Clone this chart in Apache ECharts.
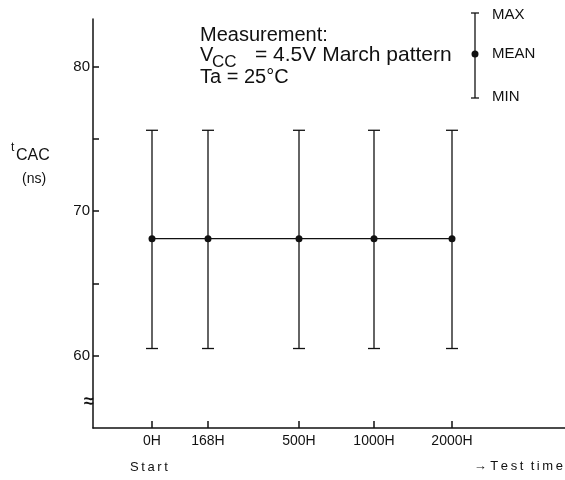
<!DOCTYPE html>
<html>
<head>
<meta charset="utf-8">
<script src="https://cdn.jsdelivr.net/npm/echarts@6/dist/echarts.min.js"></script>
<style>
  html, body { margin: 0; padding: 0; background: #fff; }
  #chart { width: 565px; height: 480px; }
</style>
</head>
<body>
<div id="chart"></div>
<script>
// test points (positions along the time axis are read off the picture, not uniform)
var timeLabels = ['0H', '168H', '500H', '1000H', '2000H'];
var timePos = [59, 115, 206, 281, 359];
var tMean = [68.1, 68.1, 68.1, 68.1, 68.1];
var tMax = [75.6, 75.6, 75.6, 75.6, 75.6];
var tMin = [60.5, 60.5, 60.5, 60.5, 60.5];
var yTicks = [60, 65, 70, 75, 80];
var yLabels = [60, 70, 80];

var font = 'Liberation Sans, Arial, sans-serif';
var ink = '#111';

var chartDom = document.getElementById('chart');
var myChart = echarts.init(chartDom);

var meanData = timePos.map(function (x, i) { return [x, tMean[i]]; });
var barData = timePos.map(function (x, i) { return [x, tMin[i], tMax[i]]; });

function label(x, y, text, size, extra) {
    var st = { text: text, font: size + 'px ' + font, fill: ink, verticalAlign: 'middle' };
    for (var k in extra) st[k] = extra[k];
    return { type: 'text', x: x, y: y, style: st };
}
// spread letters a bit, like the typewriter-ish labels of the original
function spaced(s) { return s.split('').join('\u2009'); }

var option = {
    animation: false,
    backgroundColor: '#fff',
    grid: { left: 93, right: 0, top: 19, bottom: 52 },
    xAxis: {
        type: 'value',
        min: 0,
        max: 472,
        splitLine: { show: false },
        axisLine: { lineStyle: { color: ink, width: 1.5 } },
        axisTick: {
            inside: true, length: 7,
            customValues: timePos,
            lineStyle: { color: ink, width: 1.5 }
        },
        axisLabel: {
            customValues: timePos,
            color: ink, fontFamily: font, fontSize: 14, margin: 6,
            formatter: function (v) {
                var i = timePos.indexOf(v);
                return i >= 0 ? timeLabels[i] : '';
            }
        }
    },
    yAxis: {
        type: 'value',
        min: 55,
        max: 83.3,
        splitLine: { show: false },
        axisLine: { lineStyle: { color: ink, width: 1.5 } },
        axisTick: {
            inside: true, length: 6,
            customValues: yTicks,
            lineStyle: { color: ink, width: 1.5 }
        },
        axisLabel: {
            customValues: yLabels,
            color: ink, fontFamily: font, fontSize: 15, margin: 3
        }
    },
    graphic: [
        label(200, 35, 'Measurement:', 20),
        label(200, 55, 'V', 20),
        label(212, 62, 'CC', 17),
        label(255, 55, '= 4.5V March pattern', 21),
        label(200, 77, 'Ta = 25°C', 20),

        // legend glyph
        { type: 'line', shape: { x1: 475, y1: 13, x2: 475, y2: 98 }, style: { stroke: ink, lineWidth: 1.3 } },
        { type: 'line', shape: { x1: 471, y1: 13, x2: 479, y2: 13 }, style: { stroke: ink, lineWidth: 1.3 } },
        { type: 'line', shape: { x1: 471, y1: 98, x2: 479, y2: 98 }, style: { stroke: ink, lineWidth: 1.3 } },
        { type: 'circle', shape: { cx: 475, cy: 54, r: 3.5 }, style: { fill: ink } },
        label(492, 15, 'MAX', 15),
        label(492, 54, 'MEAN', 15),
        label(492, 97, 'MIN', 15),

        // axis name
        label(11, 148, 't', 12),
        label(16, 156, 'CAC', 16),
        label(22, 179, '(ns)', 14),

        // axis break
        label(84, 402, '≈', 18, { font: 'bold 18px ' + font }),

        label(130, 467, spaced('Start'), 13),
        label(563, 466, '→ ' + spaced('Test') + '  ' + spaced('time'), 13, { align: 'right' })
    ],
    series: [
        {
            type: 'custom',
            data: barData,
            renderItem: function (params, api) {
                var x = api.value(0);
                var lo = api.coord([x, api.value(1)]);
                var hi = api.coord([x, api.value(2)]);
                var w = 6;
                var st = { stroke: ink, lineWidth: 1.3 };
                return {
                    type: 'group',
                    children: [
                        { type: 'line', shape: { x1: lo[0], y1: lo[1], x2: hi[0], y2: hi[1] }, style: st },
                        { type: 'line', shape: { x1: hi[0] - w, y1: hi[1], x2: hi[0] + w, y2: hi[1] }, style: st },
                        { type: 'line', shape: { x1: lo[0] - w, y1: lo[1], x2: lo[0] + w, y2: lo[1] }, style: st }
                    ]
                };
            }
        },
        {
            type: 'line',
            data: meanData,
            symbol: 'circle',
            symbolSize: 7,
            itemStyle: { color: ink },
            lineStyle: { color: ink, width: 1.2 },
            z: 3
        }
    ]
};

option && myChart.setOption(option);
</script>
</body>
</html>
